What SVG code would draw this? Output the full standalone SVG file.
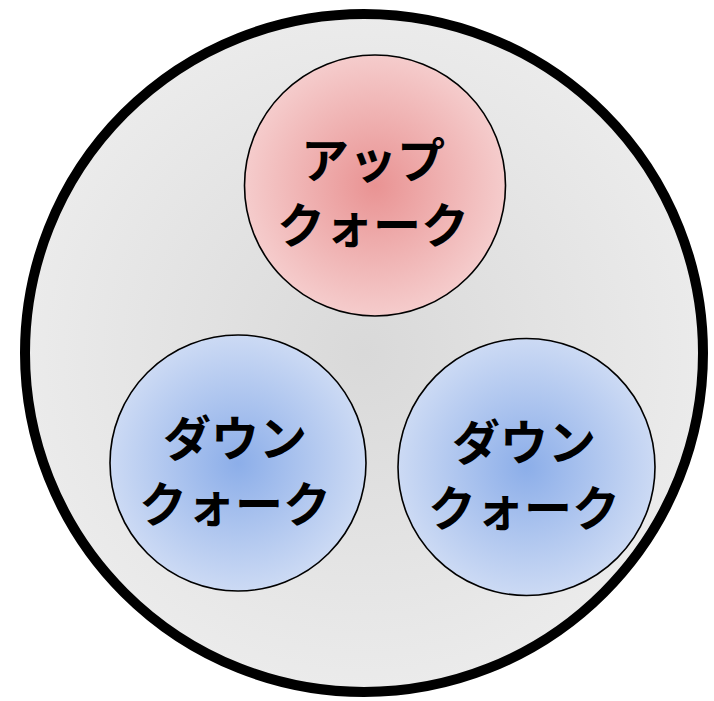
<svg xmlns="http://www.w3.org/2000/svg" width="714" height="701" viewBox="0 0 714 701">
<defs>
<radialGradient id="gBg" cx="50%" cy="50%" r="50%">
<stop offset="0" stop-color="#d9d9d9"/>
<stop offset="1" stop-color="#ebebeb"/>
</radialGradient>
<radialGradient id="gRed" cx="50%" cy="50%" r="50%">
<stop offset="0" stop-color="#e99393"/>
<stop offset="1" stop-color="#f5cccc"/>
</radialGradient>
<radialGradient id="gBlue" cx="50%" cy="50%" r="50%">
<stop offset="0" stop-color="#8caee9"/>
<stop offset="1" stop-color="#ccdaf4"/>
</radialGradient>
</defs>
<style>
.q{stroke:#000;stroke-width:1.6}
.t{font-family:"Noto Sans CJK JP","Noto Sans",sans-serif;font-weight:bold;font-size:48px;fill:#000;text-anchor:middle;dominant-baseline:central}
</style>
<g id="hadron">
<circle cx="364" cy="353" r="339" fill="url(#gBg)" stroke="#000" stroke-width="10"/>
</g>
<g id="up">
<circle class="q" cx="375" cy="185.5" r="130.5" fill="url(#gRed)"/>
<text class="t" x="373" y="157">アップ</text>
<text class="t" x="373" y="222">クォーク</text>
</g>
<g id="down1">
<circle class="q" cx="238" cy="463" r="128" fill="url(#gBlue)"/>
<text class="t" x="235" y="435">ダウン</text>
<text class="t" x="235" y="501">クォーク</text>
</g>
<g id="down2">
<circle class="q" cx="526.5" cy="467" r="128.5" fill="url(#gBlue)"/>
<text class="t" x="524" y="439">ダウン</text>
<text class="t" x="524" y="505">クォーク</text>
</g>
<g id="connectors"/>
</svg>
